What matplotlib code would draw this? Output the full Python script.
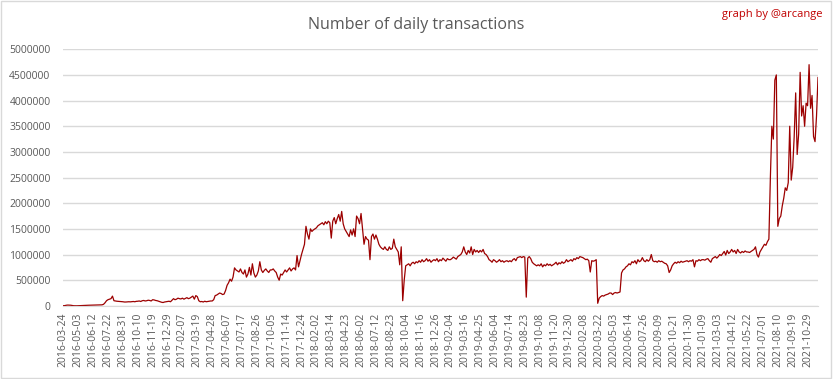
import matplotlib
matplotlib.use("Agg")
import matplotlib.pyplot as plt
from matplotlib.patches import Rectangle
import numpy as np

plt.rcParams['font.family'] = ['Open Sans', 'DejaVu Sans']

# tick labels, one every 40 daily entries
dates = [
    "2016-03-24", "2016-05-03", "2016-06-12", "2016-07-22", "2016-08-31", "2016-10-10",
    "2016-11-19", "2016-12-29", "2017-02-07", "2017-03-19", "2017-04-28", "2017-06-07",
    "2017-07-17", "2017-08-26", "2017-10-05", "2017-11-14", "2017-12-24", "2018-02-02",
    "2018-03-14", "2018-04-23", "2018-06-02", "2018-07-12", "2018-08-23", "2018-10-04",
    "2018-11-16", "2018-12-26", "2019-02-04", "2019-03-16", "2019-04-25", "2019-06-04",
    "2019-07-14", "2019-08-23", "2019-10-08", "2019-11-20", "2019-12-30", "2020-02-08",
    "2020-03-22", "2020-05-03", "2020-06-14", "2020-07-26", "2020-09-09", "2020-10-21",
    "2020-11-30", "2021-01-09", "2021-03-03", "2021-04-12", "2021-05-22", "2021-07-01",
    "2021-08-10", "2021-09-19", "2021-10-29",
]

# daily transactions (thousands), one reading every 4 days
tx_2016 = [
    3, 5, 12, 15, 14, 12, 6, 2, 1, 1,
    2, 2, 3, 5, 8, 10, 12, 12, 13, 14,
    15, 15, 16, 16, 17, 18, 20, 30, 60, 100,
    120, 130, 140, 190, 100, 95, 90, 88, 85, 85,
    80, 75, 75, 78, 80, 78, 82, 85, 80, 88,
    90, 95, 85, 100, 105, 95, 100, 110, 105, 95,
    120, 115, 105, 100, 90, 80, 70, 65, 75, 80,
]
tx_2017 = [
    85, 90, 80, 110, 140, 120, 130, 150, 140, 135,
    150, 130, 145, 160, 140, 150, 170, 190, 130, 200,
    180, 100, 80, 85, 75, 90, 80, 85, 90, 95,
    95, 120, 200, 210, 230, 250, 240, 220, 230, 300,
    400, 450, 520, 480, 560, 740, 700, 680, 660, 720,
    650, 620, 700, 560, 620, 750, 600, 820, 640, 560,
    600, 680, 860, 700, 650, 690, 720, 680, 650, 700,
    700, 720, 680, 650, 560, 500, 620, 600, 650, 700,
    660, 700, 740, 680, 720, 740, 700, 980, 760, 880,
]
tx_2018 = [
    1000, 1100, 1200, 1550, 1400, 1300, 1500, 1450, 1480, 1500,
    1520, 1560, 1580, 1600, 1620, 1580, 1640, 1600, 1650, 1620,
    1320, 1650, 1720, 1600, 1700, 1780, 1650, 1840, 1600, 1500,
    1450, 1400, 1350, 1480, 1380, 1500, 1350, 1750, 1700, 1600,
    1800, 1500, 1200, 1350, 1300, 1280, 900, 1350, 1400, 1300,
    1380, 1300, 1200, 1150, 1120, 1100, 1150, 1100, 1080, 1150,
    1100, 1120, 1300, 1150, 1100, 1050, 800, 1150, 100, 500,
    780, 800, 820, 780, 830, 850, 820, 860, 840, 880,
    850, 900, 860, 880, 920, 870, 900, 850, 880, 900,
]
tx_2019 = [
    880, 920, 860, 900, 880, 930, 900, 870, 920, 900,
    900, 920, 950, 930, 910, 960, 980, 1000, 1050, 1150,
    1050, 1000, 1080, 1030, 1150, 1000, 1100, 1050, 1080, 1040,
    1080, 1050, 1100, 1020, 1000, 960, 900, 880, 850, 900,
    880, 850, 870, 900, 860, 880, 850, 870, 880, 860,
    880, 860, 900, 920, 880, 940, 950, 960, 940, 960,
    950, 170, 930, 960, 920, 850, 820, 800, 780, 800,
    780, 820, 760, 800, 780, 820, 790, 810, 780, 800,
    820, 850, 800, 840, 820, 860, 830, 850, 900, 860,
]
tx_2020 = [
    880, 900, 870, 920, 900, 940, 920, 960, 950, 940,
    920, 900, 910, 880, 660, 880, 870, 880, 900, 50,
    150, 180, 200, 190, 210, 220, 230, 250, 250, 220,
    250, 260, 250, 260, 270, 640, 700, 720, 760, 780,
    820, 800, 860, 840, 880, 820, 900, 860, 880, 940,
    880, 860, 900, 870, 900, 1000, 880, 860, 870, 850,
    880, 860, 870, 850, 830, 820, 780, 650, 700, 780,
    820, 850, 830, 860, 840, 870, 850, 860, 870, 880,
    860, 880, 870, 900, 760, 880, 870, 900, 880, 900,
]
tx_2021 = [
    900, 890, 910, 920, 880, 850, 920, 940, 960, 930,
    960, 1000, 980, 1020, 1060, 990, 1080, 1020, 1050, 1100,
    1050, 1080, 1020, 1100, 1050, 1030, 1060, 1040, 1070, 1050,
    1050, 1040, 1060, 1080, 1100, 1150, 1000, 950, 1050, 1100,
    1150, 1200, 1180, 1250, 1300, 2500, 3500, 3250, 4400, 4500,
    1550, 1700, 1750, 1950, 2100, 2300, 2250, 2400, 3500, 2450,
    2700, 3300, 4150, 2950, 3350, 4550, 3700, 3900, 3500, 3950,
    3900, 4700, 3850, 4100, 3300, 3200, 3700, 4450,
]

values = np.array(tx_2016 + tx_2017 + tx_2018 + tx_2019 + tx_2020 + tx_2021) * 1000
x = np.arange(len(values)) * 4

grey = "#595959"
fig = plt.figure(figsize=(8.33, 3.79), dpi=100)
ax = fig.add_axes([0.0756, 0.193, 0.9064, 0.677])

ax.plot(x, values, color="#9C0000", lw=0.9)

ax.set_ylim(0, 5000000)
ax.set_yticks(np.arange(0, 5000001, 500000))
ax.set_yticklabels([str(v) for v in range(0, 5000001, 500000)])
ax.set_xlim(-1, 2028)
ax.set_xticks(np.arange(len(dates)) * 40)
ax.set_xticklabels(dates, rotation=90)

ax.grid(axis="y", color="#D9D9D9", lw=1)
ax.set_axisbelow(True)
for s in ["top", "right", "left"]:
    ax.spines[s].set_visible(False)
ax.spines["bottom"].set_color("#D9D9D9")
ax.tick_params(axis="both", length=0, colors=grey, labelsize=7.5)
ax.tick_params(axis="y", pad=9)
ax.tick_params(axis="x", pad=5)

fig.text(0.5, 0.935, "Number of daily transactions", ha="center", va="center",
         fontsize=11.5, color=grey)
fig.text(0.987, 0.962, "graph by @arcange", ha="right", va="center",
         fontsize=8, color="#C00000")

fig.patches.append(Rectangle((0.001, 0.002), 0.997, 0.995, transform=fig.transFigure,
                             fill=False, edgecolor="#D9D9D9", lw=1))

fig.savefig("out.png", dpi=100)
